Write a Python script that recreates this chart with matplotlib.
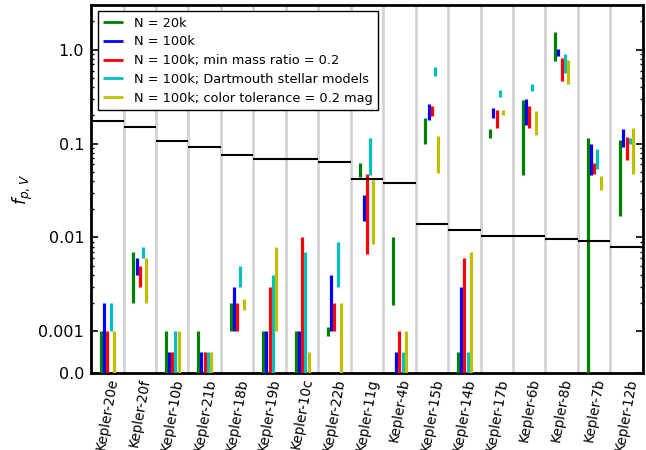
import matplotlib
matplotlib.use("Agg")
import matplotlib.pyplot as plt
from matplotlib.ticker import FixedLocator, FixedFormatter, NullFormatter
import numpy as np

planets = ["Kepler-20e", "Kepler-20f", "Kepler-10b", "Kepler-21b", "Kepler-18b",
           "Kepler-19b", "Kepler-10c", "Kepler-22b", "Kepler-11g", "Kepler-4b",
           "Kepler-15b", "Kepler-14b", "Kepler-17b", "Kepler-6b", "Kepler-8b",
           "Kepler-7b", "Kepler-12b"]

thresholds = [0.174, 0.149, 0.106, 0.093, 0.075, 0.069, 0.068, 0.064, 0.0416,
              0.0382, 0.0139, 0.0120, 0.0103, 0.0103, 0.0096, 0.0092, 0.0080]

labels = ["N = 20k", "N = 100k", "N = 100k; min mass ratio = 0.2",
          "N = 100k; Dartmouth stellar models", "N = 100k; color tolerance = 0.2 mag"]
colors = ["g", "b", "r", "c", "y"]

low_20k = [0, 0.002, 0, 0, 0.001, 0, 0, 0.0009, 0.044, 0.0019,
           0.099, 0, 0.114, 0.046, 0.76, 0, 0.017]
high_20k = [0.001, 0.007, 0.001, 0.001, 0.002, 0.001, 0.001, 0.0011, 0.062, 0.010,
            0.186, 0.0005, 0.143, 0.294, 1.53, 0.114, 0.110]

low_100k = [0, 0.004, 0, 0, 0.001, 0, 0, 0.001, 0.015, 0,
            0.18, 0, 0.186, 0.158, 0.85, 0.046, 0.092]
high_100k = [0.002, 0.006, 0.0005, 0.0005, 0.003, 0.001, 0.001, 0.004, 0.028, 0.0005,
             0.267, 0.003, 0.238, 0.30, 1.03, 0.100, 0.143]

low_mmr = [0, 0.003, 0, 0, 0.001, 0, 0, 0.001, 0.0067, 0,
           0.195, 0, 0.148, 0.146, 0.46, 0.048, 0.067]
high_mmr = [0.001, 0.005, 0.0005, 0.0005, 0.002, 0.003, 0.010, 0.002, 0.048, 0.001,
            0.254, 0.006, 0.230, 0.250, 0.82, 0.0615, 0.118]

low_dart = [0.001, 0.006, 0, 0, 0.003, 0, 0, 0.003, 0.046, 0,
            0.52, 0, 0.313, 0.36, 0.57, 0.053, 0.099]
high_dart = [0.002, 0.008, 0.001, 0.0005, 0.005, 0.004, 0.007, 0.009, 0.116, 0.0005,
             0.65, 0.0005, 0.376, 0.435, 0.91, 0.087, 0.114]

low_col = [0, 0.002, 0, 0, 0.0017, 0.001, 0, 0, 0.0085, 0,
           0.049, 0, 0.202, 0.124, 0.43, 0.032, 0.047]
high_col = [0.001, 0.006, 0.001, 0.0005, 0.0022, 0.008, 0.0005, 0.002, 0.041, 0.001,
            0.12, 0.007, 0.226, 0.22, 0.78, 0.045, 0.146]

lows = [low_20k, low_100k, low_mmr, low_dart, low_col]
highs = [high_20k, high_100k, high_mmr, high_dart, high_col]
offsets = [0.3, 0.4, 0.5, 0.6, 0.7]

fig = plt.figure(figsize=(6.46, 4.5), dpi=100)
ax = fig.add_axes([0.141, 0.171, 0.854, 0.818])

n = len(planets)
idx = np.arange(n)

for b in range(1, n):
    ax.axvline(b, color="#d3d3d3", lw=2, zorder=0)

for k in range(5):
    ax.vlines(idx + offsets[k], lows[k], highs[k], colors=colors[k], lw=2.3,
              label=labels[k], zorder=3)

ax.hlines(thresholds, idx, idx + 1, colors="k", lw=1.5, zorder=4)

ax.set_yscale("symlog", linthresh=0.001, linscale=0.4)
ax.set_ylim(0, 3.0)
ax.set_xlim(0, n)

major = [0.0, 0.001, 0.01, 0.1, 1.0]
ax.yaxis.set_major_locator(FixedLocator(major))
ax.yaxis.set_major_formatter(FixedFormatter(["0.0", "0.001", "0.01", "0.1", "1.0"]))
minor = [m * 10.0**e for e in range(-3, 1) for m in range(2, 10)]
minor = [v for v in minor if v < 3.0]
ax.yaxis.set_minor_locator(FixedLocator(minor))
ax.yaxis.set_minor_formatter(NullFormatter())
ax.tick_params(axis="y", which="major", direction="in", length=5, width=1.2,
               left=True, right=True, labelsize=11.5, pad=5)
ax.tick_params(axis="y", which="minor", direction="in", length=2.5, width=1,
               left=True, right=True)

ax.set_xticks(idx + 0.5)
ax.set_xticklabels(planets, rotation=80, ha="center", fontsize=9.8)
ax.tick_params(axis="x", length=0, pad=3)

for sp in ax.spines.values():
    sp.set_linewidth(2)

ax.set_ylabel(r"$f_{p,V}$", fontsize=12.5)
ax.yaxis.set_label_coords(-0.102, 0.5)

leg = ax.legend(loc="upper left", fontsize=9.3, handlelength=1.6,
                fancybox=False, framealpha=1, edgecolor="k",
                borderaxespad=0.5, labelspacing=0.45)
leg.get_frame().set_linewidth(1.0)
for line in leg.get_lines():
    line.set_linewidth(2)

fig.savefig("out.png", dpi=100)
